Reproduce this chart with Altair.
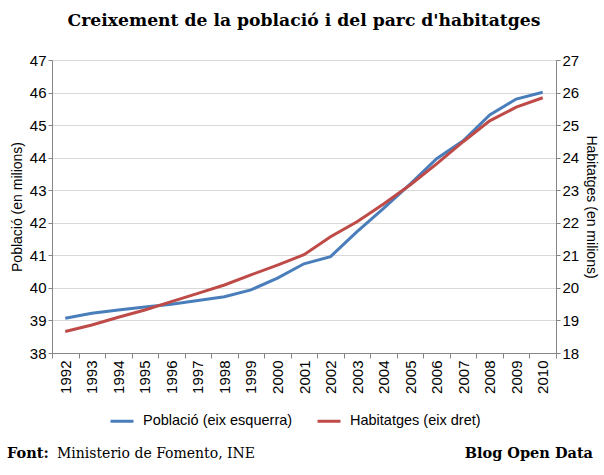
import altair as alt
import pandas as pd

# Population (left axis) and housing stock (right axis), millions
years = [str(y) for y in range(1992, 2011)]
poblacio = [39.07, 39.22, 39.32, 39.41, 39.50, 39.61, 39.73, 39.94, 40.30, 40.74,
            40.96, 41.73, 42.44, 43.19, 43.97, 44.52, 45.31, 45.80, 46.01]
habitatges = [18.66, 18.86, 19.10, 19.32, 19.58, 19.83, 20.09, 20.40, 20.70, 21.02,
              21.57, 22.03, 22.58, 23.16, 23.81, 24.49, 25.13, 25.55, 25.84]

series_names = ["Població (eix esquerra)", "Habitatges (eix dret)"]
series_colors = ["#4A7EBB", "#BE4B48"]

title_text = "Creixement de la població i del parc d'habitatges"
source_label = "Font:"
source_text = "Ministerio de Fomento, INE"
brand_text = "Blog Open Data"

df_p = pd.DataFrame({"year": years, "value": poblacio, "series": series_names[0]})
df_h = pd.DataFrame({"year": years, "value": habitatges, "series": series_names[1]})

SANS = "Liberation Sans"
SERIF = "DejaVu Serif"

x_enc = alt.X(
    "year:O",
    scale=alt.Scale(type="band", paddingInner=0, paddingOuter=0),
    axis=alt.Axis(
        title=None, labelAngle=-90, tickBand="extent", tickSize=5,
        labelPadding=2, labelFont=SANS, labelFontSize=15, labelColor="#000",
        domainColor="#868686", tickColor="#868686", grid=False,
    ),
)

color_enc = alt.Color(
    "series:N",
    scale=alt.Scale(domain=series_names, range=series_colors),
    legend=alt.Legend(
        title=None, orient="none", legendX=57, legendY=348, direction="horizontal",
        symbolType="stroke", symbolSize=529, symbolStrokeWidth=3,
        labelFont=SANS, labelFontSize=14.5, labelColor="#000", labelOffset=8,
        columnPadding=18,
    ),
)

def y_axis(orient, title):
    return alt.Axis(
        orient=orient, title=title, tickCount=10,
        titleFont=SANS, titleFontSize=14, titleFontWeight="normal", titleColor="#000",
        titlePadding=5,
        labelFont=SANS, labelFontSize=15, labelColor="#000", labelPadding=2,
        tickSize=4, tickColor="#868686", domainColor="#868686",
        grid=True, gridColor="#D9D9D9",
    )

line_p = alt.Chart(df_p).mark_line(strokeWidth=3).encode(
    x=x_enc,
    y=alt.Y("value:Q", scale=alt.Scale(domain=[38, 47], nice=False, zero=False),
            axis=y_axis("left", "Població (en milions)")),
    color=color_enc,
)

line_h = alt.Chart(df_h).mark_line(strokeWidth=3).encode(
    x=x_enc,
    y=alt.Y("value:Q", scale=alt.Scale(domain=[18, 27], nice=False, zero=False),
            axis=y_axis("right", "Habitatges (en milions)")),
    color=color_enc,
)

def label(text, x, y, align, weight, size, font=SERIF):
    return alt.Chart(pd.DataFrame({"t": [text]})).mark_text(
        align=align, baseline="alphabetic", font=font, fontSize=size,
        fontWeight=weight, color="#000",
    ).encode(x=alt.value(x), y=alt.value(y), text="t:N")

title = label(title_text, 252, -34, "center", "bold", 17.2)
src_a = label(source_label, -45, 398, "left", "bold", 14.5)
src_b = label(source_text, 5, 398, "left", "normal", 14)
brand = label(brand_text, 541, 398, "right", "bold", 14.5)

chart = (
    alt.layer(line_p, line_h, title, src_a, src_b, brand)
    .resolve_scale(y="independent")
    .properties(
        width=504, height=293,
        autosize=alt.AutoSizeParams(type="none"),
        padding={"left": 52, "top": 60, "right": 48, "bottom": 122},
        background="#FFFFFF",
    )
    .configure_view(stroke=None)
)

chart.save("out.html", embed_options={"renderer": "svg", "actions": False})
